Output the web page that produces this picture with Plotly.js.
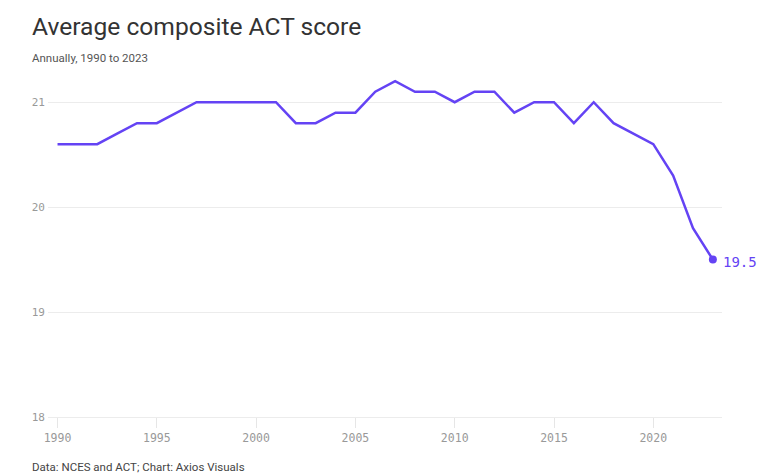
<!DOCTYPE html>
<html>
<head>
<meta charset="utf-8">
<script src="https://cdn.plot.ly/plotly-3.0.1.min.js"></script>
<style>
html,body{margin:0;padding:0;background:#fff;}
#chart{width:768px;height:476px;}
</style>
</head>
<body>
<div id="chart"></div>
<script>
const years = [1990,1991,1992,1993,1994,1995,1996,1997,1998,1999,2000,2001,2002,2003,2004,2005,2006,2007,2008,2009,2010,2011,2012,2013,2014,2015,2016,2017,2018,2019,2020,2021,2022,2023];
const scores = [20.6,20.6,20.6,20.7,20.8,20.8,20.9,21.0,21.0,21.0,21.0,21.0,20.8,20.8,20.9,20.9,21.1,21.2,21.1,21.1,21.0,21.1,21.1,20.9,21.0,21.0,20.8,21.0,20.8,20.7,20.6,20.3,19.8,19.5];
const xTicks = [1990,1995,2000,2005,2010,2015,2020];
const yTicks = [18,19,20,21];
const titleText = "Average composite ACT score";
const subtitleText = "Annually, 1990 to 2023";
const sourceText = "Data: NCES and ACT; Chart: Axios Visuals";

const lineColor = "#6443f4";
const mono = "'DejaVu Sans Mono', monospace";
const sans = "Roboto, 'Noto Sans', sans-serif";

const lastX = years[years.length-1];
const lastY = scores[scores.length-1];

const traces = [
  {x: years, y: scores, type: "scatter", mode: "lines",
   line: {color: lineColor, width: 2.5}, hoverinfo: "skip"},
  {x: [lastX], y: [lastY], type: "scatter", mode: "markers",
   marker: {color: lineColor, size: 8}, hoverinfo: "skip"}
];

const layout = {
  width: 768, height: 476,
  margin: {l: 48, r: 46, t: 76, b: 59},
  paper_bgcolor: "#fff", plot_bgcolor: "#fff",
  showlegend: false,
  xaxis: {
    range: [1989.52, 2023.46],
    tickvals: xTicks, ticktext: xTicks.map(String),
    showgrid: false, zeroline: false,
    showline: true, linecolor: "#ececec", linewidth: 1,
    ticks: "outside", ticklen: 10, tickcolor: "#e6e6e6", tickwidth: 1,
    tickfont: {family: mono, size: 11.5, color: "#999"},
    fixedrange: true
  },
  yaxis: {
    range: [18, 21.25],
    tickvals: yTicks, ticktext: yTicks.map(String),
    showgrid: true, gridcolor: "#ececec", gridwidth: 1,
    zeroline: false, showline: false, ticks: "",
    ticklabelstandoff: 2,
    tickfont: {family: mono, size: 11, color: "#999"},
    fixedrange: true
  },
  annotations: [
    {text: titleText, xref: "paper", yref: "paper", x: -0.0267, y: 1.146,
     xanchor: "left", yanchor: "middle", showarrow: false,
     font: {family: sans, size: 24.6, color: "#333"}},
    {text: subtitleText, xref: "paper", yref: "paper", x: -0.0267, y: 1.053,
     xanchor: "left", yanchor: "middle", showarrow: false,
     font: {family: sans, size: 11.5, color: "#555"}},
    {text: sourceText, xref: "paper", yref: "paper", x: -0.0267, y: -0.146,
     xanchor: "left", yanchor: "middle", showarrow: false,
     font: {family: sans, size: 11.5, color: "#444"}},
    {text: String(lastY), x: lastX, y: lastY, xref: "x", yref: "y",
     xanchor: "left", yanchor: "middle", xshift: 8, yshift: -2, showarrow: false,
     font: {family: mono, size: 14, color: lineColor}}
  ]
};

Plotly.newPlot("chart", traces, layout, {displayModeBar: false, staticPlot: true});
</script>
</body>
</html>
